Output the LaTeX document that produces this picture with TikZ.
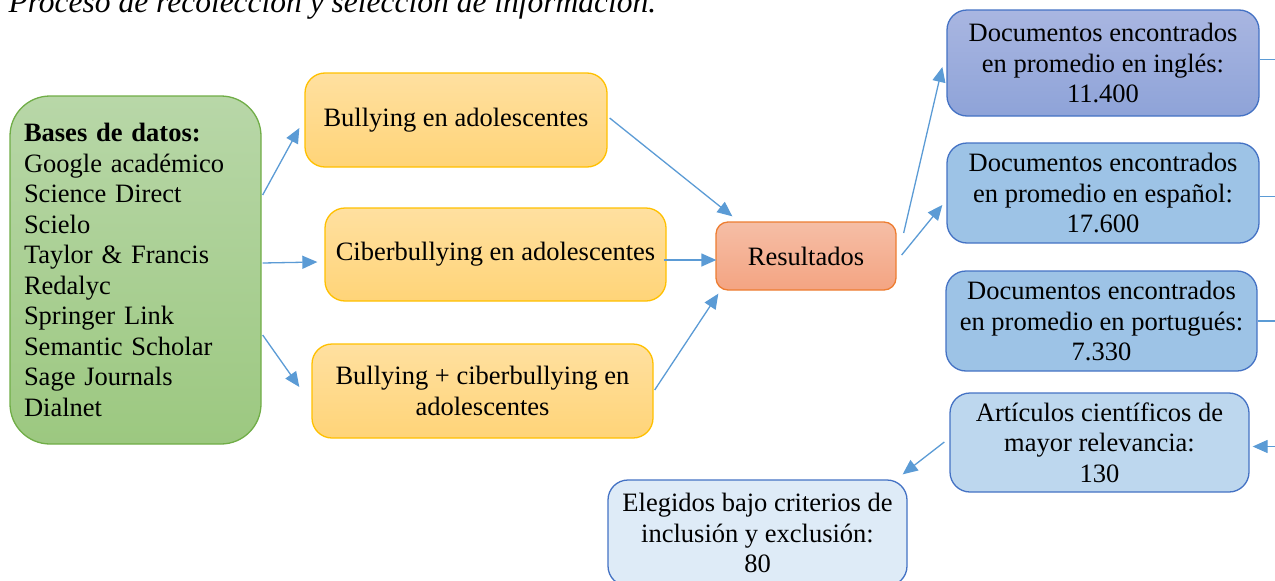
\documentclass[tikz,border=0pt]{standalone}
\usepackage{fontspec}
\setmainfont{Liberation Serif}
\usetikzlibrary{arrows.meta}

\definecolor{arrowblue}{RGB}{91,155,213}
\definecolor{greenline}{RGB}{112,173,71}
\definecolor{goldline}{RGB}{255,192,0}
\definecolor{orangeline}{RGB}{237,125,49}
\definecolor{blueline}{RGB}{68,114,196}

\tikzset{
  box/.style={draw, align=center, inner sep=0pt, rounded corners=20pt,
    font=\fontsize{26.5}{30.5}\selectfont},
  datos/.style={box, draw=greenline, rounded corners=40pt,
    top color={rgb,255:red,184;green,215;blue,168},
    bottom color={rgb,255:red,156;green,200;blue,128}},
  tema/.style={box, draw=goldline,
    top color={rgb,255:red,255;green,224;blue,160},
    bottom color={rgb,255:red,255;green,212;blue,120}},
  result/.style={box, draw=orangeline, rounded corners=12pt,
    top color={rgb,255:red,245;green,190;blue,166},
    bottom color={rgb,255:red,244;green,164;blue,130}},
  doc/.style={box, draw=blueline}
}

\begin{document}
\begin{tikzpicture}[x=1pt,y=-1pt,>={Triangle[length=15pt,width=13pt]},line width=1.3pt]
  \useasboundingbox (0,0) rectangle (1275,581);

  \node[anchor=base west, inner sep=0pt, font=\fontsize{31.5}{36}\selectfont\itshape] (titulo) at (8,12)
    {Proceso de recolección y selección de información.};

  \node[datos, align=left, text width=223pt, inner xsep=14pt, minimum height=348pt] (bases) at (135.5,270)
    {\textbf{Bases de datos:}\\ Google académico\\ Science Direct\\ Scielo\\ Taylor \& Francis\\
     Redalyc\\ Springer Link\\ Semantic Scholar\\ Sage Journals\\ Dialnet};

  \node[tema, minimum width=302pt, minimum height=94pt] (bull)    at (456,120)   {Bullying en adolescentes};
  \node[tema, minimum width=341pt, minimum height=93pt] (cib)     at (495.5,254.5) {Ciberbullying en adolescentes};
  \node[tema, minimum width=341pt, minimum height=94pt] (bullcib) at (482.5,391)   {Bullying + ciberbullying en\\ adolescentes};

  \node[result, minimum width=180pt, minimum height=68pt] (res) at (806,256) {Resultados};

  \node[doc, minimum width=312pt, minimum height=106pt,
    top color={rgb,255:red,169;green,182;blue,225}, bottom color={rgb,255:red,142;green,163;blue,216}]
    (ingles) at (1103,63) {Documentos encontrados\\ en promedio en inglés:\\ 11.400};
  \node[doc, minimum width=312pt, minimum height=100pt, fill={rgb,255:red,157;green,195;blue,230}]
    (espanol) at (1103,193) {Documentos encontrados\\ en promedio en español:\\ 17.600};
  \node[doc, minimum width=311pt, minimum height=100pt, fill={rgb,255:red,157;green,195;blue,230}]
    (portugues) at (1101.5,321) {Documentos encontrados\\ en promedio en portugués:\\ 7.330};
  \node[doc, minimum width=299pt, minimum height=99pt, fill={rgb,255:red,189;green,215;blue,238}]
    (articulos) at (1099.5,442.5) {Artículos científicos de\\ mayor relevancia:\\ 130};
  \node[doc, minimum width=299pt, minimum height=106pt, fill={rgb,255:red,222;green,235;blue,247}]
    (elegidos) at (757.5,533) {Elegidos bajo criterios de\\ inclusión y exclusión:\\ 80};

  \coordinate (rail) at (1300,60);

  \path[->, arrowblue]
  ([xshift=1pt,yshift=75pt]bases.east)
  edge ([xshift=-5pt,yshift=-8pt]bull.west)
  ([xshift=1pt,yshift=7pt]bases.east)
  edge ([xshift=-7pt,yshift=-7.5pt]cib.west)
  ([xshift=1pt,yshift=-65pt]bases.east)
  edge ([xshift=-12pt,yshift=4pt]bullcib.west)

  ([xshift=2pt,yshift=2pt]bull.east)
  edge ([xshift=17pt,yshift=5pt]res.north west)
  ([xshift=-3pt,yshift=-5.5pt]cib.east)
  edge ([xshift=1pt,yshift=-4pt]res.west)
  ([xshift=1pt,yshift=1pt]bullcib.east)
  edge ([xshift=3pt,yshift=-3pt]res.south west)

  ([xshift=7pt,yshift=23pt]res.east)
  edge ([xshift=-4pt,yshift=-4pt]ingles.west)
  ([xshift=5pt,yshift=1pt]res.east)
  edge ([xshift=-4pt,yshift=-12pt]espanol.west)

  ([xshift=-5pt,yshift=0.5pt]articulos.west)
  edge ([xshift=-5pt,yshift=5pt]elegidos.north east);

  \draw[arrowblue] ([yshift=3.5pt]ingles.east) -- ([yshift=3.5pt]ingles.east -| rail)
    -- ([yshift=-4pt]articulos.east -| rail);
  \draw[arrowblue] ([yshift=-3.5pt]espanol.east) -- ([yshift=-3.5pt]espanol.east -| rail);
  \draw[arrowblue] (portugues.east) -- (portugues.east -| rail);
  \draw[->, arrowblue] ([yshift=-4pt]articulos.east -| rail) -- ([xshift=3pt,yshift=-4pt]articulos.east);
\end{tikzpicture}
\end{document}
